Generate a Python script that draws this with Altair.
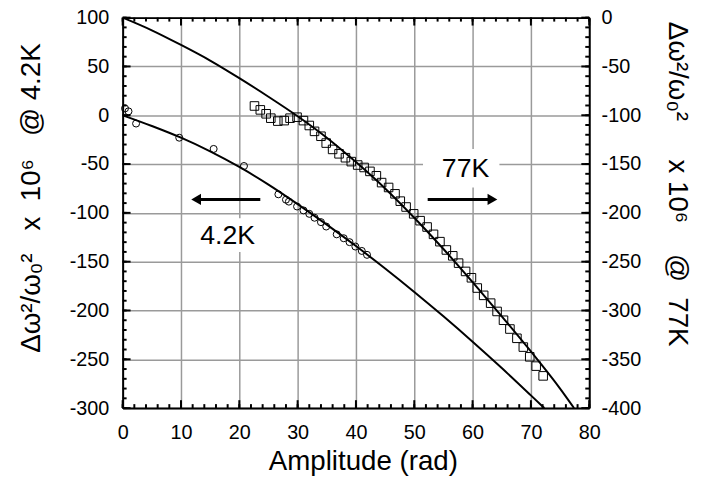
import altair as alt
import pandas as pd

# ---------------- data ----------------
circ_x = [0.4, 1.0, 2.3, 9.7, 15.6, 20.8, 26.7, 28.0, 28.5, 29.9, 31.0, 32.0, 32.9,
          34.0, 34.9, 36.7, 37.9, 38.9, 39.9, 41.0, 41.9]
circ_y = [7, 4, -8.5, -23, -34.5, -52, -81, -86.5, -88.5, -93.5, -97.5, -101, -105,
          -109.5, -114, -122, -126, -130, -134.5, -139, -143]

sq_x = [22.6, 23.6, 24.6, 25.4, 26.6, 27.7, 28.7, 29.9, 31.0, 32.0, 32.9, 34.0, 34.9,
        36.0, 37.1, 38.2, 39.2, 40.3, 41.4, 42.4, 43.5, 44.4, 45.6, 46.7, 47.6, 48.6,
        49.9, 51.0, 52.2, 53.3, 54.4, 55.5, 56.6, 57.6, 58.8, 59.8, 60.8, 61.9, 63.1,
        64.2, 65.3, 66.4, 67.6, 68.7, 69.8, 70.9, 72.1]
sq_y = [-90.5, -94.5, -98.5, -103, -106, -105.5, -103, -102, -105.5, -110.5, -116.5,
        -121.5, -128.5, -135, -139.5, -143.5, -147.5, -151, -153.5, -157.5, -162, -169,
        -174, -180.5, -188, -194, -201, -208, -214.5, -222, -229.5, -238, -244, -251.5,
        -260, -266.5, -277, -284.5, -292.5, -301, -310, -319, -328.5, -337.5, -347.5,
        -357, -367]

c42_x = [0, 5, 10, 15, 20, 25, 30, 35, 40, 45, 50, 55, 60, 65, 70, 72.3]
c42_y = [0, -11, -23, -37, -53, -71, -91, -112, -134, -157, -181, -206, -232, -259, -287, -300]

c77_x = [0, 5, 10, 15, 20, 25, 30, 35, 40, 45, 50, 55, 60, 65, 70, 75, 77.4]
c77_y = [0, -13, -28, -44, -62, -81, -101, -123, -148, -175, -205, -237, -271, -306, -342, -380, -400]

label_text = ["4.2K", "77K"]
label_x = [18.0, 58.8]
label_y = [-123.5, -55.5]
box_x1 = [12.2, 51.5]
box_x2 = [23.7, 64.6]
box_y1 = [-105.5, -34.5]
box_y2 = [-140.0, -74.0]
arrow_from = [23.6, 52.3]
arrow_to = [13.0, 63.0]
arrow_y = [-86.3, -86.3]
head_x = [12.6, 63.4]
head_shape = ["triangle-left", "triangle-right"]

x_major = list(range(0, 81, 10))
x_minor = list(range(0, 81, 2))
yl_major = list(range(-300, 101, 50))
yl_minor = list(range(-300, 101, 10))
yr_major = list(range(-400, 1, 50))
yr_minor = list(range(-400, 1, 10))

NB = "\u00a0"
title_left = "Δω²/ω₀²" + NB * 3 + "x" + NB * 2 + "10⁶" + NB * 3 + "@" + NB + "4.2K"
title_right = "Δω²/ω₀²" + NB * 5 + "x" + NB + "10⁶" + NB * 4 + "@" + NB * 2 + "77K"

circ_df = pd.DataFrame({"x": circ_x, "y": circ_y})
sq_df = pd.DataFrame({"x": sq_x, "y": sq_y})
c42_df = pd.DataFrame({"x": c42_x, "y": c42_y})
c77_df = pd.DataFrame({"x": c77_x, "y": c77_y})
lab_df = pd.DataFrame({"t": label_text, "x": label_x, "y": label_y})
box_df = pd.DataFrame({"x": box_x1, "x2": box_x2, "y": box_y1, "y2": box_y2})
arr_df = pd.DataFrame({"x": arrow_from, "x2": arrow_to, "y": arrow_y})
head_df = pd.DataFrame({"x": head_x, "y": arrow_y, "s": head_shape})
xmaj_df = pd.DataFrame({"tx": x_major})
xmin_df = pd.DataFrame({"tx": x_minor})
ylmaj_df = pd.DataFrame({"ty": yl_major})
ylmin_df = pd.DataFrame({"ty": yl_minor})
yrmaj_df = pd.DataFrame({"ty": yr_major})
yrmin_df = pd.DataFrame({"ty": yr_minor})

W, H = 472, 395
FONT = "Liberation Sans"
GRID = "#9a9a9a"
TICK = "black"
xscale = alt.Scale(domain=[0, 80], nice=False, zero=False)
ylscale = alt.Scale(domain=[-300, 100], nice=False, zero=False)
yrscale = alt.Scale(domain=[-400, 0], nice=False, zero=False)

common = dict(labelFont=FONT, labelFontSize=20, labelColor="black", labelFlush=False,
              labelOverlap=False, labelBound=False, labelExpr="'' + datum.value",
              titleFont=FONT, titleFontWeight="normal", titleColor="black",
              domainColor="black", domainWidth=2, ticks=False)

ax_bottom = alt.Axis(orient="bottom", values=x_major, domain=True, grid=True,
                     gridColor=GRID, gridWidth=1.5, labelPadding=15,
                     title="Amplitude (rad)", titleFontSize=28, titleX=243, titleY=62,
                     titleBaseline="alphabetic", **common)
ax_left = alt.Axis(orient="left", values=yl_major, domain=True, grid=True,
                   gridColor=GRID, gridWidth=1.5, labelPadding=14,
                   title=title_left, titleFontSize=28, titleX=-92,
                   titleY=182, titleBaseline="middle", **common)
ax_top = alt.Axis(orient="top", values=x_major, domain=True, grid=False, labels=False,
                  title="", **common)
ax_right = alt.Axis(orient="right", values=yr_major, domain=True, grid=False,
                    labelPadding=12, title=title_right, titleFontSize=28,
                    titleX=88, titleY=168, titleBaseline="middle", titleAngle=90,
                    **common)

X1 = alt.X("x:Q", scale=xscale, axis=ax_bottom)
YL = alt.Y("y:Q", scale=ylscale, axis=ax_left)

box = alt.Chart(box_df).mark_rect(color="white").encode(
    x=X1, x2="x2:Q", y=YL, y2="y2:Q")
line42 = alt.Chart(c42_df).mark_line(color="black", strokeWidth=2, clip=True,
                                     interpolate="monotone").encode(x=X1, y=YL)
circles = alt.Chart(circ_df).mark_point(shape="circle", size=50, color="black",
                                        filled=False, strokeWidth=1, opacity=1).encode(x=X1, y=YL)
arrows = alt.Chart(arr_df).mark_rule(color="black", strokeWidth=3).encode(
    x=X1, x2="x2:Q", y=YL)
heads = alt.Chart(head_df).mark_point(filled=True, color="black", size=130, opacity=1).encode(
    x=X1, y=YL, shape=alt.Shape("s:N", scale=None))
labels = alt.Chart(lab_df).mark_text(font=FONT, fontSize=27, color="black",
                                     align="center", baseline="middle").encode(
    x=X1, y=YL, text="t:N")

left = alt.layer(box, line42, circles, arrows, heads, labels)

X2 = alt.X("x:Q", scale=xscale, axis=ax_top)
YR = alt.Y("y:Q", scale=yrscale, axis=ax_right)
line77 = alt.Chart(c77_df).mark_line(color="black", strokeWidth=2, clip=True,
                                     interpolate="monotone").encode(x=X2, y=YR)
squares = alt.Chart(sq_df).mark_point(shape="square", size=75, color="black",
                                      filled=False, strokeWidth=1, opacity=1).encode(x=X2, y=YR)
right = alt.layer(line77, squares)

# inward tick marks, placed through the scales (own layers, no axes)
XT = alt.X("tx:Q", scale=xscale, axis=None)


def xticks(df, length):
    bottom = alt.Chart(df).mark_rule(color=TICK, strokeWidth=2).encode(
        x=XT, y=alt.value(H), y2=alt.value(H - length))
    top = alt.Chart(df).mark_rule(color=TICK, strokeWidth=2).encode(
        x=XT, y=alt.value(0), y2=alt.value(length))
    return [bottom, top]


def yticks(df, scale, side, length):
    enc = alt.Y("ty:Q", scale=scale, axis=None)
    if side == "left":
        return alt.Chart(df).mark_rule(color=TICK, strokeWidth=2).encode(
            y=enc, x=alt.value(0), x2=alt.value(length))
    return alt.Chart(df).mark_rule(color=TICK, strokeWidth=2).encode(
        y=enc, x=alt.value(W), x2=alt.value(W - length))


ticks_left = alt.layer(*xticks(xmaj_df, 8), *xticks(xmin_df, 4),
                       yticks(ylmaj_df, ylscale, "left", 8),
                       yticks(ylmin_df, ylscale, "left", 4))
ticks_right = alt.layer(yticks(yrmaj_df, yrscale, "right", 8),
                        yticks(yrmin_df, yrscale, "right", 4))

chart = alt.layer(left, right, ticks_left, ticks_right).resolve_scale(
    y="independent").resolve_axis(x="independent", y="independent").properties(
    width=W, height=H, autosize="none",
    padding={"left": 116, "top": 7, "right": 107, "bottom": 70}
).configure_view(strokeWidth=0)

chart.save("out.html", embed_options={"renderer": "svg", "actions": False})
